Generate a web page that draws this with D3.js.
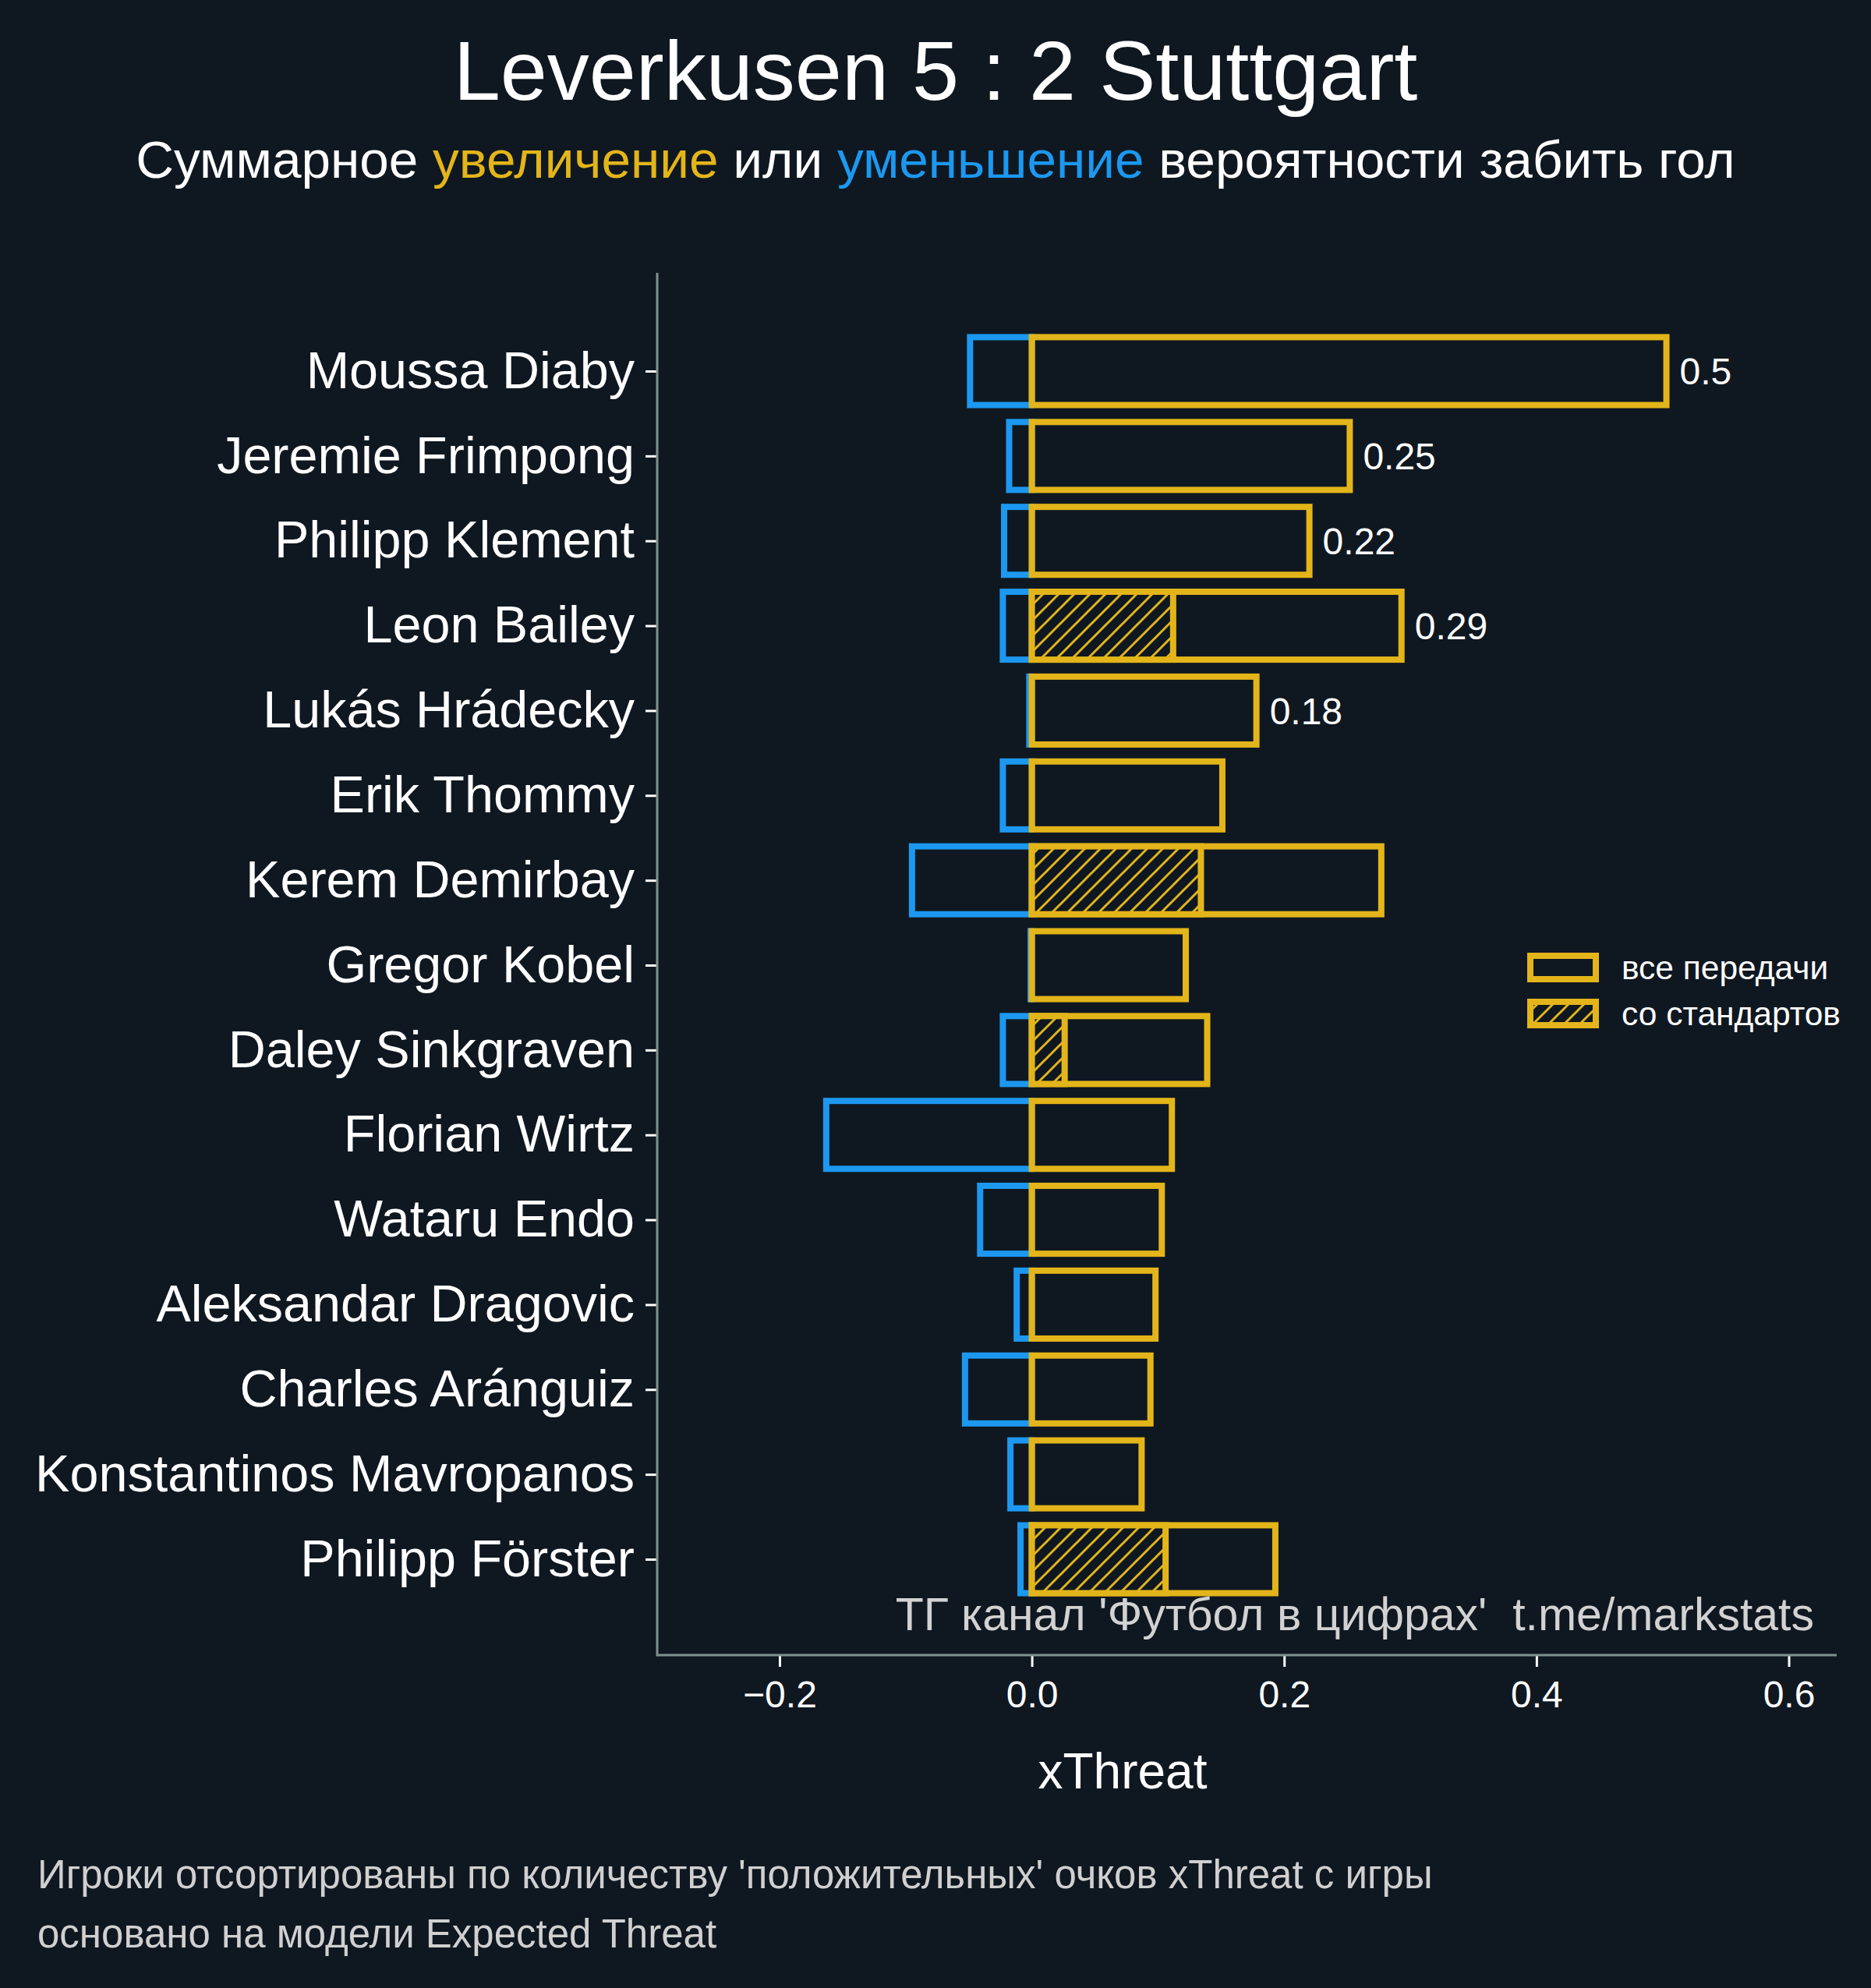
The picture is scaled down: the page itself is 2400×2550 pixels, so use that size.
<!DOCTYPE html>
<html>
<head>
<meta charset="utf-8">
<script src="https://cdn.jsdelivr.net/npm/d3@7"></script>
<style>
  html, body { margin: 0; padding: 0; background: #0f1821; }
  svg { display: block; }
  text { font-family: "Liberation Sans", Arial, Helvetica, sans-serif; }
</style>
</head>
<body>
<svg id="chart" width="2400" height="2550"></svg>
<script>
// ---- data ----
const players = [
  "Moussa Diaby", "Jeremie Frimpong", "Philipp Klement", "Leon Bailey",
  "Lukás Hrádecky", "Erik Thommy", "Kerem Demirbay", "Gregor Kobel",
  "Daley Sinkgraven", "Florian Wirtz", "Wataru Endo", "Aleksandar Dragovic",
  "Charles Aránguiz", "Konstantinos Mavropanos", "Philipp Förster"
];
const positiveAll = [0.503, 0.252, 0.220, 0.293, 0.178, 0.151, 0.277, 0.122,
                     0.139, 0.111, 0.103, 0.098, 0.094, 0.087, 0.193];
const positiveSetPiece = [0, 0, 0, 0.112, 0, 0, 0.134, 0,
                          0.026, 0, 0, 0, 0, 0, 0.106];
const negativeAll = [-0.049, -0.018, -0.022, -0.023, -0.002, -0.023, -0.095, -0.001,
                     -0.023, -0.163, -0.041, -0.012, -0.053, -0.017, -0.009];
const labelledCount = 5;
const xTicks = [-0.2, 0.0, 0.2, 0.4, 0.6];
const xDomain = [-0.297, 0.638];
const legendLabels = ["все передачи", "со стандартов"];

(function () {
// ---- styles ----
const BG = "#0f1821", YEL = "#e3b51a", BLUE = "#1c98f0", SPINE = "#7f918f";
const svg = d3.select("#chart");
svg.append("rect").attr("width", 2400).attr("height", 2550).attr("fill", BG);

const defs = svg.append("defs");
const pat = defs.append("pattern").attr("id", "hatch")
  .attr("patternUnits", "userSpaceOnUse").attr("width", 20).attr("height", 20);
pat.append("rect").attr("width", 20).attr("height", 20).attr("fill", BG);
pat.append("path").attr("d", "M-2,2 l4,-4 M0,20 l20,-20 M18,22 l4,-4")
  .attr("stroke", YEL).attr("stroke-width", 3).attr("stroke-linecap", "square");

const L = 843, R = 2356, T = 350, B = 2123;
const x = d3.scaleLinear().domain(xDomain).range([L, R]);
const y = d3.scalePoint().domain(players).range([476, 2000]);
const step = y.step();
const bh = step * 0.8;

const rows = players.map((p, i) => ({
  p, pos: positiveAll[i], set: positiveSetPiece[i], neg: negativeAll[i], i
}));

const g = svg.append("g");
// negative bars
g.selectAll("rect.neg").data(rows).join("rect").attr("class", "neg")
  .attr("x", d => x(d.neg)).attr("width", d => x(0) - x(d.neg))
  .attr("y", d => y(d.p) - bh / 2).attr("height", bh)
  .attr("fill", "none").attr("stroke", BLUE).attr("stroke-width", 8);
// positive bars
g.selectAll("rect.pos").data(rows).join("rect").attr("class", "pos")
  .attr("x", x(0)).attr("width", d => x(d.pos) - x(0))
  .attr("y", d => y(d.p) - bh / 2).attr("height", bh)
  .attr("fill", "none").attr("stroke", YEL).attr("stroke-width", 8);
// set-piece hatched bars
g.selectAll("rect.set").data(rows.filter(d => d.set > 0)).join("rect").attr("class", "set")
  .attr("x", x(0)).attr("width", d => x(d.set) - x(0))
  .attr("y", d => y(d.p) - bh / 2).attr("height", bh)
  .attr("fill", "url(#hatch)").attr("stroke", YEL).attr("stroke-width", 8);
// value labels
g.selectAll("text.val").data(rows.slice(0, labelledCount)).join("text").attr("class", "val")
  .attr("x", d => x(d.pos) + 17).attr("y", d => y(d.p))
  .attr("dy", "0.36em").attr("fill", "#ffffff").attr("font-size", 48)
  .text(d => String(+d.pos.toFixed(2)));

// axes
const yAxis = d3.axisLeft(y).tickSize(15).tickPadding(14);
const yg = svg.append("g").attr("transform", `translate(${L},0)`).call(yAxis);
yg.select(".domain").remove();
yg.selectAll(".tick line").attr("stroke", "#ffffff").attr("stroke-width", 3);
yg.selectAll(".tick text").attr("fill", "#ffffff").attr("font-size", 66.5)
  .attr("font-family", "'Liberation Sans', Arial, sans-serif");

const xAxis = d3.axisBottom(x).tickValues(xTicks).tickSize(15).tickPadding(18)
  .tickFormat(d => d3.format(".1f")(d).replace("-", "\u2212"));
const xg = svg.append("g").attr("transform", `translate(0,${B})`).call(xAxis);
xg.select(".domain").remove();
xg.selectAll(".tick line").attr("stroke", "#ffffff").attr("stroke-width", 3);
xg.selectAll(".tick text").attr("fill", "#ffffff").attr("font-size", 48)
  .attr("font-family", "'Liberation Sans', Arial, sans-serif");

// spines
svg.append("line").attr("x1", L).attr("x2", L).attr("y1", T).attr("y2", B + 1.5)
  .attr("stroke", SPINE).attr("stroke-width", 3);
svg.append("line").attr("x1", L).attr("x2", R).attr("y1", B).attr("y2", B)
  .attr("stroke", SPINE).attr("stroke-width", 3);

// axis label
svg.append("text").attr("x", 1440).attr("y", 2294).attr("text-anchor", "middle")
  .attr("fill", "#ffffff").attr("font-size", 64).text("xThreat");

// watermark
svg.append("text").attr("x", 2327).attr("y", 2091).attr("text-anchor", "end")
  .attr("fill", "#d2d2d2").attr("font-size", 59)
  .style("white-space", "pre")
  .text("ТГ канал 'Футбол в цифрах'  t.me/markstats");

// legend
const lg = svg.append("g");
const legendY = [1241, 1300];
legendLabels.forEach((lab, i) => {
  lg.append("rect").attr("x", 1963).attr("y", legendY[i] - 15).attr("width", 84).attr("height", 30)
    .attr("fill", i === 1 ? "url(#hatch)" : "none").attr("stroke", YEL).attr("stroke-width", 8);
  lg.append("text").attr("x", 2080).attr("y", legendY[i]).attr("dy", "0.36em")
    .attr("fill", "#ffffff").attr("font-size", 42.5).text(lab);
});

// title
svg.append("text").attr("x", 1200).attr("y", 128).attr("text-anchor", "middle")
  .attr("fill", "#ffffff").attr("font-size", 108).text("Leverkusen 5 : 2 Stuttgart");
const sub = svg.append("text").attr("x", 1200).attr("y", 228).attr("text-anchor", "middle")
  .attr("font-size", 67.5).attr("fill", "#ffffff");
sub.append("tspan").text("Суммарное ");
sub.append("tspan").attr("fill", YEL).text("увеличение");
sub.append("tspan").text(" или ");
sub.append("tspan").attr("fill", BLUE).text("уменьшение");
sub.append("tspan").text(" вероятности забить гол");

// footnote
svg.append("text").attr("x", 48).attr("y", 2422).attr("fill", "#d0d0d0").attr("font-size", 51)
  .text("Игроки отсортированы по количеству 'положительных' очков xThreat с игры");
svg.append("text").attr("x", 48).attr("y", 2498).attr("fill", "#d0d0d0").attr("font-size", 51)
  .text("основано на модели Expected Threat");
})();
</script>
</body>
</html>
